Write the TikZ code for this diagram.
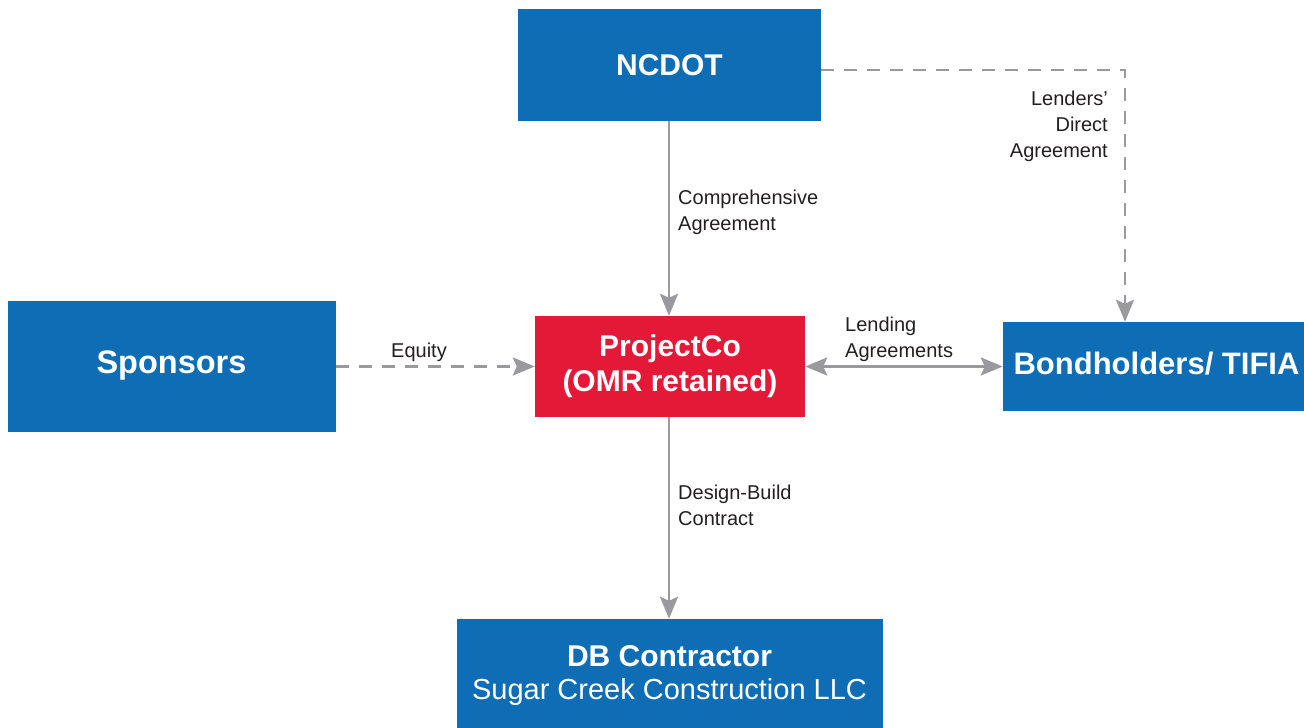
\documentclass[tikz,border=0pt]{standalone}
\usepackage{fontspec}
\setmainfont{Liberation Sans}
\usetikzlibrary{arrows.meta}

\definecolor{boxblue}{HTML}{0F6DB5}
\definecolor{boxred}{HTML}{E31937}
\definecolor{linkgray}{HTML}{9A9A9E}
\definecolor{labelgray}{HTML}{231F20}

\tikzset{
  party/.style={fill=boxblue, text=white, inner sep=0pt, align=center,
    font=\fontsize{30}{35}\selectfont\bfseries},
  hub/.style={party, fill=boxred},
  link/.style={draw=linkgray, line width=2.8pt,
    -{Stealth[length=22pt, width=18pt, inset=4pt]}},
  duallink/.style={link, {Stealth[length=22pt, width=18pt, inset=4pt]}-{Stealth[length=22pt, width=18pt, inset=4pt]}},
  dashlink/.style={link, dash pattern=on 13pt off 10pt},
  linklabel/.style={text=labelgray, inner sep=0pt,
    font=\fontsize{20}{25.8}\selectfont}
}

\begin{document}
\begin{tikzpicture}[x=1pt, y=-1pt]
  \useasboundingbox (0,0) rectangle (1304,728);

  % parties
  \node[party, minimum width=303pt, minimum height=112pt] (ncdot) at (669.5,65) {NCDOT};
  \node[party, minimum width=328pt, minimum height=131pt] (spons) at (172,366.5) {};
  \node[font=\fontsize{32.5}{35}\selectfont\bfseries, text=white, inner sep=0pt]
        (sponstxt) at (171.5,366) {Sponsors};
  \node[hub, minimum width=270pt, minimum height=101pt] (pco) at (670,366.5) {};
  \node[font=\fontsize{30}{35}\selectfont\bfseries, text=white, inner sep=0pt, align=center]
        (pcotxt) at (670,366.5) {ProjectCo\\(OMR retained)};
  \node[party, minimum width=301pt, minimum height=89pt] (bond) at (1153.5,366.5) {};
  \node[font=\fontsize{31}{35}\selectfont\bfseries, text=white, inner sep=0pt]
        (bondtxt) at (1156.5,364) {Bondholders/ TIFIA};
  \node[party, minimum width=426pt, minimum height=109pt] (dbc) at (670,673.5) {};
  \node[font=\fontsize{30}{33}\selectfont, text=white, inner sep=0pt, align=center]
        (dbctxt) at (669.5,675.5)
        {\textbf{DB Contractor}\\\fontsize{29}{33}\selectfont Sugar Creek Construction LLC};

  % relationships
  \draw[link] (ncdot.south -| 669,0) -- (pco.north -| 669,0);
  \draw[link] (pco.south -| 669,0) -- (dbc.north -| 669,0);
  \draw[dashlink] (spons.east) -- (pco.west);
  \draw[duallink] (pco.east) -- (bond.west);
  \coordinate (corner) at (1125,70);
  \draw[dashlink] (ncdot.east |- corner) -- (corner) -- (bond.north -| corner);

  % relationship labels
  \node[linklabel, anchor=west, align=left] (lca) at (678,212) {Comprehensive\\Agreement};
  \node[linklabel] (leq) at (419,352) {Equity};
  \node[linklabel, anchor=west, align=left] (lla) at (845,339) {Lending\\Agreements};
  \node[linklabel, anchor=east, align=right] (lld) at (1108,126.5) {Lenders'\\Direct\\Agreement};
  \node[linklabel, anchor=west, align=left] (ldb) at (678,505) {Design-Build\\Contract};
\end{tikzpicture}
\end{document}
